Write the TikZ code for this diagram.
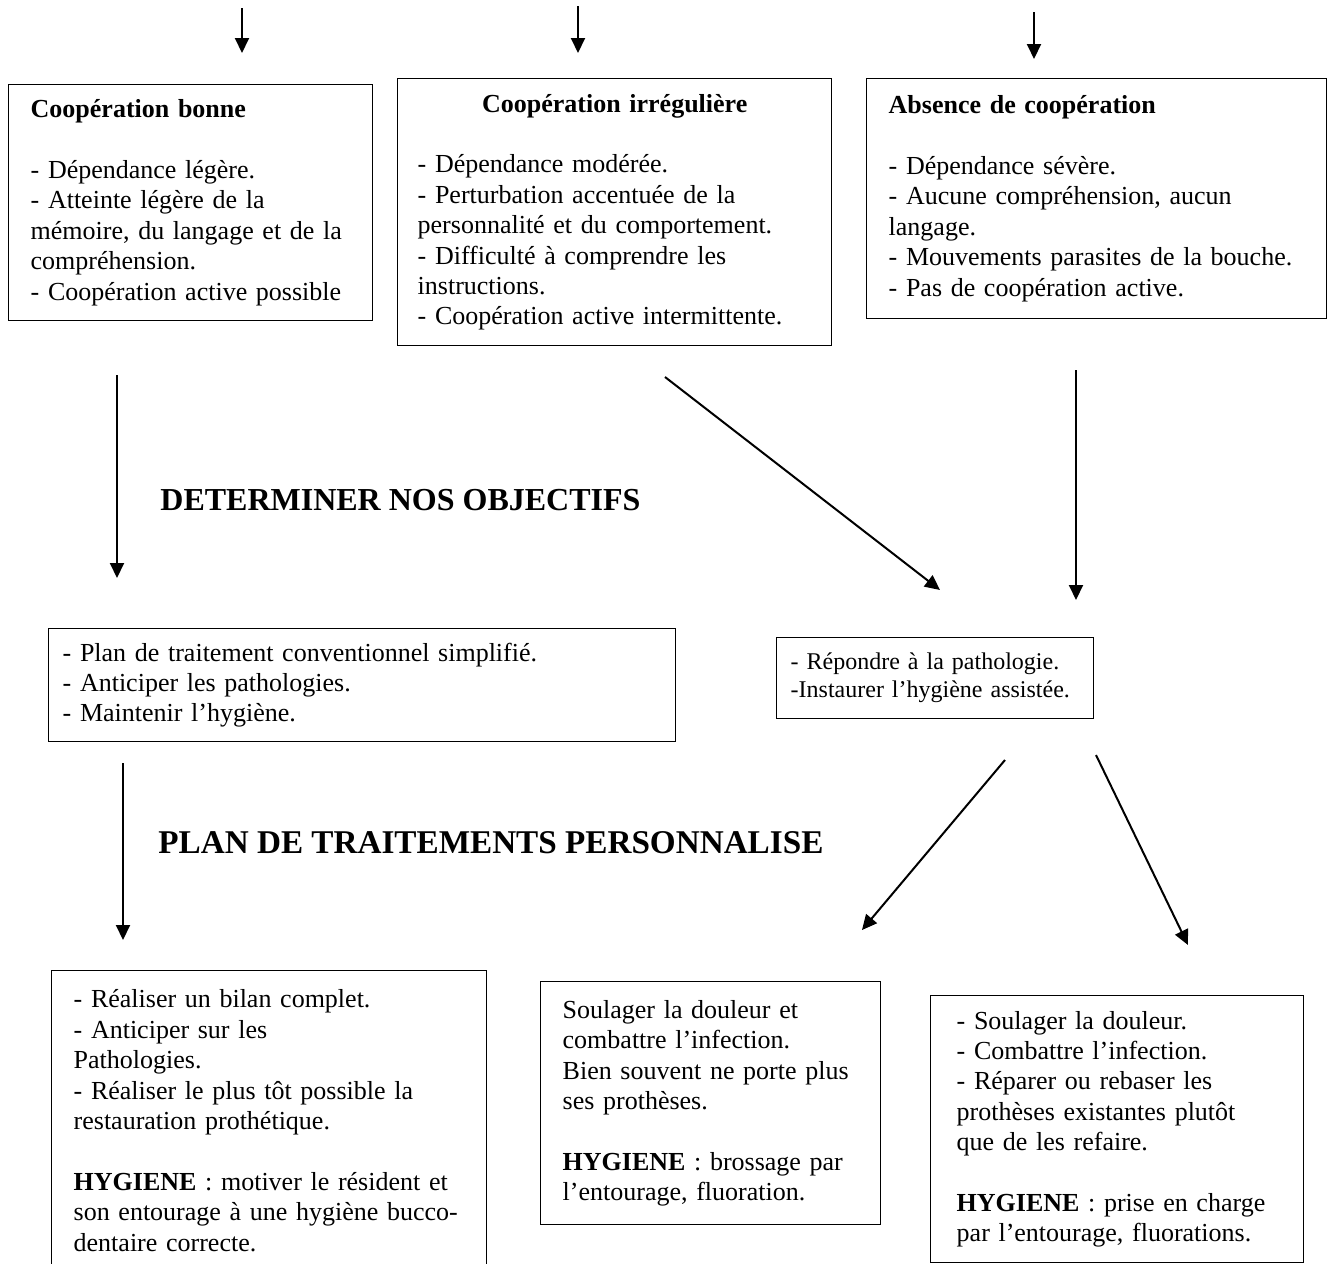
\documentclass[tikz,border=0pt]{standalone}
\usepackage{fontspec}
\setmainfont{Liberation Serif}
\usetikzlibrary{arrows.meta}

\tikzset{
    box/.style = {draw, line width=0.7pt, anchor=north west, align=left, inner ysep=0pt,
        font=\fontsize{13}{15.2}\selectfont},
    heading/.style = {anchor=west, inner sep=0pt, font=\fontsize{16}{19}\selectfont\bfseries},
    arrow/.style = {-{Triangle[length=7.5pt, width=7pt]}, line width=1pt}
}

\begin{document}
\begin{tikzpicture}[x=0.5pt, y=-0.5pt]
    \useasboundingbox (0,0) rectangle (1329,1264);

    \node[box, text width=160pt, inner xsep=11pt, minimum height=118pt] (bonne) at (8,84)
        {\textbf{Coopération bonne}\\[15.2pt]
         - Dépendance légère.\\
         - Atteinte légère de la\\
         mémoire, du langage et de la\\
         compréhension.\\
         - Coopération active possible};
    \node[box, text width=197pt, inner xsep=10pt, minimum height=133.5pt] (irreg) at (397,78)
        {\makebox[\linewidth]{\textbf{Coopération irrégulière}}\\[15.2pt]
         - Dépendance modérée.\\
         - Perturbation accentuée de la\\
         personnalité et du comportement.\\
         - Difficulté à comprendre les\\
         instructions.\\
         - Coopération active intermittente.};
    \node[box, text width=208pt, inner xsep=11pt, minimum height=120pt] (absence) at (866,78)
        {\textbf{Absence de coopération}\\[15.2pt]
         - Dépendance sévère.\\
         - Aucune compréhension, aucun\\
         langage.\\
         - Mouvements parasites de la bouche.\\
         - Pas de coopération active.};

    \node[heading] (objectifs) at (160,500) {DETERMINER NOS OBJECTIFS};

    \node[box, text width=299.5pt, inner xsep=7pt, minimum height=56.5pt] (simple) at (48,628)
        {- Plan de traitement conventionnel simplifié.\\
         - Anticiper les pathologies.\\
         - Maintenir l’hygiène.};
    \node[box, text width=144.5pt, inner xsep=7pt, minimum height=40.5pt,
          font=\fontsize{12}{14}\selectfont] (repondre) at (776,637)
        {\mbox{- Répondre à la pathologie.}\\
         \mbox{-Instaurer l’hygiène assistée.}};

    \node[heading, font=\fontsize{16.6}{19}\selectfont\bfseries] (plan) at (158,843)
        {PLAN DE TRAITEMENTS PERSONNALISE};

    \node[box, text width=195.5pt, inner xsep=11pt, minimum height=150pt] (bilan) at (51,970)
        {- Réaliser un bilan complet.\\
         - Anticiper sur les\\
         Pathologies.\\
         \makebox[\linewidth][s]{- Réaliser le plus tôt possible la}\\
         restauration prothétique.\\[15.2pt]
         \makebox[\linewidth][s]{\textbf{HYGIENE} : motiver le résident et}\\
         \makebox[\linewidth][s]{son entourage à une hygiène bucco-}\\
         dentaire correcte.};
    \node[box, text width=148pt, inner xsep=11pt, minimum height=121.5pt] (soulager) at (540,981)
        {Soulager la douleur et\\
         combattre l’infection.\\
         Bien souvent ne porte plus\\
         ses prothèses.\\[15.2pt]
         \textbf{HYGIENE} : brossage par\\
         l’entourage, fluoration.};
    \node[box, text width=160.5pt, inner xsep=13pt, minimum height=133.5pt] (reparer) at (930,995)
        {- Soulager la douleur.\\
         - Combattre l’infection.\\
         - Réparer ou rebaser les\\
         prothèses existantes plutôt\\
         que de les refaire.\\[15.2pt]
         \textbf{HYGIENE} : prise en charge\\
         par l’entourage, fluorations.};

    \coordinate (in1) at (242,8);    \coordinate (to1) at (242,53);
    \coordinate (in2) at (578,6);    \coordinate (to2) at (578,53);
    \coordinate (in3) at (1034,12);  \coordinate (to3) at (1034,59);
    \coordinate (a1) at (117,375);   \coordinate (b1) at (117,578);
    \coordinate (a2) at (665,377);   \coordinate (b2) at (940,590);
    \coordinate (a3) at (1076,370);  \coordinate (b3) at (1076,600);
    \coordinate (c1) at (123,763);   \coordinate (d1) at (123,940);
    \coordinate (c2) at (1005,760);  \coordinate (d2) at (862,930);
    \coordinate (c3) at (1096,755);  \coordinate (d3) at (1188,945);

    \draw[arrow] (in1) -- (to1);
    \draw[arrow] (in2) -- (to2);
    \draw[arrow] (in3) -- (to3);
    \draw[arrow] (a1) -- (b1);
    \draw[arrow] (a2) -- (b2);
    \draw[arrow] (a3) -- (b3);
    \draw[arrow] (c1) -- (d1);
    \draw[arrow] (c2) -- (d2);
    \draw[arrow] (c3) -- (d3);
\end{tikzpicture}
\end{document}
